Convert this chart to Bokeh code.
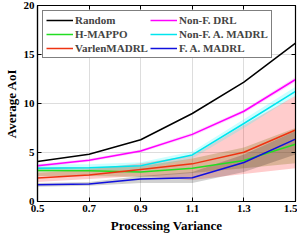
from bokeh.plotting import figure
from bokeh.models import LinearAxis, Legend, LegendItem, FixedTicker, Range1d
from bokeh.embed import file_html
from bokeh.resources import INLINE

x = [0.5, 0.7, 0.9, 1.1, 1.3, 1.5]
random_v = [4.08, 4.82, 6.30, 8.98, 12.19, 16.17]
nonf_drl = [3.64, 4.21, 5.16, 6.85, 9.21, 12.45]
nonf_amadrl = [3.40, 3.44, 3.64, 4.75, 7.96, 11.24]
hmappo = [3.17, 3.13, 3.00, 3.40, 4.18, 5.84]
varlen = [2.39, 2.70, 3.27, 3.84, 5.03, 7.29]
fa_madrl = [1.71, 1.78, 2.29, 2.42, 3.98, 6.37]

varlen_lo = [2.0, 2.3, 2.6, 2.2, 2.8, 3.4]
varlen_hi = [2.9, 3.3, 3.9, 4.7, 7.8, 10.8]
hmappo_lo = [2.6, 2.6, 2.5, 2.9, 3.4, 3.9]
hmappo_hi = [3.5, 3.5, 3.6, 4.4, 5.5, 7.5]
fa_lo = [1.5, 1.6, 1.9, 1.9, 3.0, 4.8]
fa_hi = [1.9, 2.0, 2.6, 3.0, 4.8, 7.2]
nonfa_lo = [3.1, 3.1, 3.3, 4.4, 7.5, 10.8]
nonfa_hi = [3.8, 3.8, 4.0, 5.1, 8.4, 11.7]
nonfd_lo = [3.5, 4.05, 5.0, 6.65, 9.0, 12.2]
nonfd_hi = [3.8, 4.35, 5.3, 7.05, 9.4, 12.7]

x_ticks = [0.5, 0.7, 0.9, 1.1, 1.3, 1.5]
y_ticks = [0, 5, 10, 15, 20]

FONT = "Liberation Serif"

p = figure(width=297, height=235, output_backend="svg", toolbar_location=None,
           x_range=Range1d(0.5, 1.5), y_range=Range1d(0, 20),
           min_border_left=0, min_border_right=2, min_border_top=5, min_border_bottom=0)
p.outline_line_color = "black"
p.outline_line_width = 1.2

# bands
p.varea(x=x, y1=varlen_lo, y2=varlen_hi, fill_color="#FF0000", fill_alpha=0.2)
p.varea(x=x, y1=hmappo_lo, y2=hmappo_hi, fill_color="#8A7A20", fill_alpha=0.3)
p.varea(x=x, y1=fa_lo, y2=fa_hi, fill_color="#000000", fill_alpha=0.18)
p.varea(x=x, y1=nonfa_lo, y2=nonfa_hi, fill_color="#00FFFF", fill_alpha=0.2)
p.varea(x=x, y1=nonfd_lo, y2=nonfd_hi, fill_color="#FF00FF", fill_alpha=0.15)

lw = 1.5
r_random = p.line(x, random_v, line_color="black", line_width=lw)
r_nfd = p.line(x, nonf_drl, line_color="#FF00FF", line_width=lw)
r_hm = p.line(x, hmappo, line_color="#22DD22", line_width=lw)
r_nfa = p.line(x, nonf_amadrl, line_color="#00E5EE", line_width=lw)
r_var = p.line(x, varlen, line_color="#EE3311", line_width=lw)
r_fa = p.line(x, fa_madrl, line_color="#1010DD", line_width=lw)

# axes styling
for ax in (p.xaxis[0], p.yaxis[0]):
    ax.major_label_text_font = FONT
    ax.major_label_text_font_style = "bold"
    ax.major_label_text_font_size = "11px"
    ax.major_label_text_color = "black"
    ax.axis_label_text_font = FONT
    ax.axis_label_text_font_style = "bold"
    ax.axis_label_text_font_size = "13px"
    ax.axis_label_text_color = "black"
    ax.major_tick_in = 4
    ax.major_tick_out = 0
    ax.minor_tick_in = 0
    ax.minor_tick_out = 0
    ax.axis_line_color = "black"
    ax.axis_line_width = 1.2

p.xaxis[0].ticker = FixedTicker(ticks=x_ticks)
p.yaxis[0].ticker = FixedTicker(ticks=y_ticks)
p.xaxis[0].axis_label = "Processing Variance"
p.yaxis[0].axis_label = "Average AoI"
p.xaxis[0].major_label_standoff = 3
p.yaxis[0].major_label_standoff = 3
p.xaxis[0].axis_label_standoff = 3
p.yaxis[0].axis_label_standoff = 2

top = LinearAxis(ticker=FixedTicker(ticks=x_ticks),
                 major_label_overrides={t: "" for t in x_ticks},
                 major_tick_in=4, major_tick_out=0, minor_tick_in=0, minor_tick_out=0,
                 major_label_standoff=0, axis_line_color="black")
right = LinearAxis(ticker=FixedTicker(ticks=y_ticks),
                   major_label_overrides={t: "" for t in y_ticks},
                   major_tick_in=4, major_tick_out=0, minor_tick_in=0, minor_tick_out=0,
                   major_label_standoff=0, axis_line_color="black")
p.add_layout(top, "above")
p.add_layout(right, "right")

p.xgrid.grid_line_color = "#DDDDDD"
p.ygrid.grid_line_color = "#DDDDDD"

legend = Legend(items=[
    LegendItem(label="Random", renderers=[r_random]),
    LegendItem(label="H-MAPPO", renderers=[r_hm]),
    LegendItem(label="VarlenMADRL", renderers=[r_var]),
    LegendItem(label="Non-F. DRL", renderers=[r_nfd]),
    LegendItem(label="Non-F. A. MADRL", renderers=[r_nfa]),
    LegendItem(label="F. A. MADRL", renderers=[r_fa]),
], location="top_left", ncols=2)
legend.label_text_font = FONT
legend.label_text_font_style = "bold"
legend.label_text_font_size = "11px"
legend.label_height = 12
legend.glyph_height = 12
legend.glyph_width = 27
legend.spacing = 2
legend.padding = 3
legend.margin = 5
legend.label_standoff = 2
legend.border_line_color = "black"
legend.border_line_width = 1.2
legend.background_fill_alpha = 1
p.add_layout(legend)

open("out.html", "w").write(file_html(p, INLINE))
